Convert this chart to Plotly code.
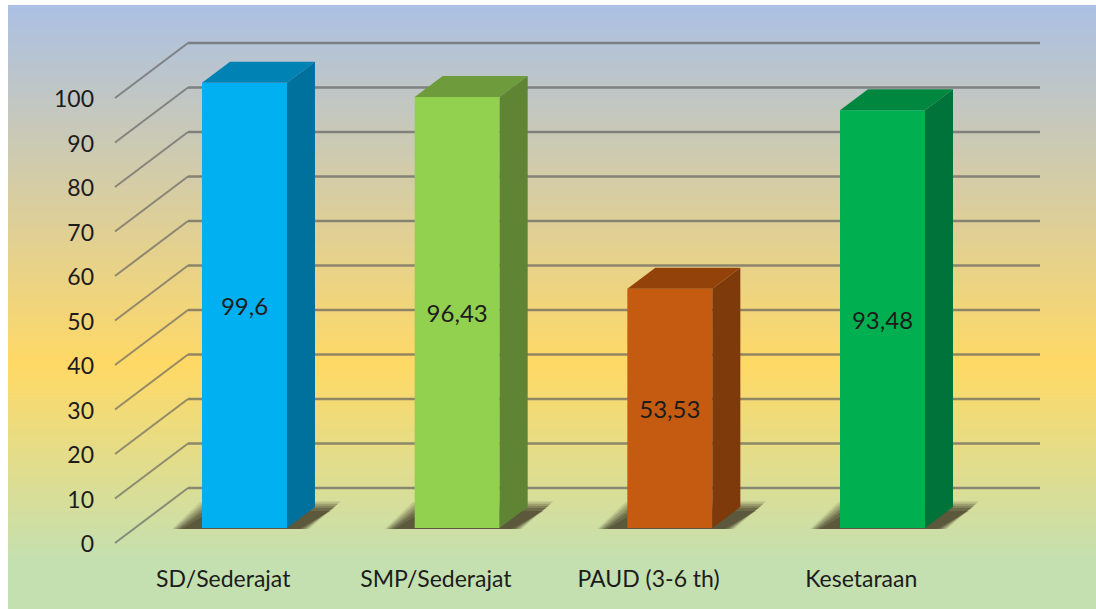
import plotly.graph_objects as go

categories = ["SD/Sederajat", "SMP/Sederajat", "PAUD (3-6 th)", "Kesetaraan"]
values = [99.6, 96.43, 53.53, 93.48]
value_labels = ["99,6", "96,43", "53,53", "93,48"]
tick_values = [0, 10, 20, 30, 40, 50, 60, 70, 80, 90, 100]
front_colors = ["#00B0F0", "#92D050", "#C55A11", "#00B050"]
side_colors = ["#00709C", "#5F8434", "#7F3A0B", "#00733A"]
top_colors = ["#0083B4", "#6E9C3C", "#934309", "#00873F"]

W, H = 1096, 609
FONT = "Lato, Carlito, Calibri, sans-serif"
TEXT = "#1c1c1c"

# pixel calibration of the value and category scales
PX_PER_CAT = 212.67
PX_CAT0 = 244.5
PX_PER_VAL = 4.45
BAR_PX_PER_VAL = 4.47
WALL_ZERO = 544.0   # where value 0 of the tick axis lies
BAR_ZERO = 528.0    # where value 0 of the bars lies


def cx(px):
    return (px - PX_CAT0) / PX_PER_CAT


def wall_v(px):
    return (WALL_ZERO - px) / PX_PER_VAL


BAR_W = 85 / PX_PER_CAT
DEPTH_X = 28 / PX_PER_CAT
DEPTH_Y = 21 / BAR_PX_PER_VAL
GRID_FRONT_X, GRID_BACK_X, GRID_END_X = cx(115), cx(188), cx(1040)
GRID_FRONT_DY = wall_v(543)
GRID_BACK_DY = wall_v(488)
BAR_TO_WALL = (WALL_ZERO - BAR_ZERO) / PX_PER_VAL

fig = go.Figure()

# panel background gradient
n_rows = H - 5
stops = [(0.0, "rgb(171,192,228)"), (360 / 604, "rgb(255,217,102)"),
         (555 / 604, "rgb(197,224,176)"), (1.0, "rgb(197,224,176)")]
fig.add_trace(go.Heatmap(
    x=[cx(8), cx(W)],
    y=[wall_v(5 + i) for i in range(n_rows + 1)],
    z=[[i / (n_rows - 1)] for i in range(n_rows)],
    colorscale=stops, zmin=0, zmax=1, showscale=False, hoverinfo="skip",
))

# back wall gridlines
gx, gy = [], []
for v in tick_values:
    gx += [GRID_BACK_X, GRID_END_X, None]
    gy += [v + GRID_BACK_DY, v + GRID_BACK_DY, None]
fig.add_trace(go.Scatter(x=gx, y=gy, mode="lines", hoverinfo="skip", showlegend=False,
                         line=dict(color="rgba(95,95,95,0.68)", width=2.6)))

# side wall gridlines
gx, gy = [], []
for v in tick_values:
    gx += [GRID_FRONT_X, GRID_BACK_X, None]
    gy += [v + GRID_FRONT_DY, v + GRID_BACK_DY, None]
fig.add_trace(go.Scatter(x=gx, y=gy, mode="lines", hoverinfo="skip", showlegend=False,
                         line=dict(color="rgba(95,95,95,0.65)", width=2)))

# soft floor shadows, drawn as stacked translucent shapes
for i in range(len(categories)):
    left = i - BAR_W / 2
    for grow, alpha in [(3, 0.1), (1.5, 0.14), (0, 0.18), (-2, 0.24), (-4, 0.28), (-7, 0.3)]:
        sx = [left + (-27 - grow) / PX_PER_CAT, left + (1 - grow) / PX_PER_CAT,
              left + (136 + grow) / PX_PER_CAT, left + (104 + grow) / PX_PER_CAT]
        sy = [BAR_TO_WALL - 1 / PX_PER_VAL, BAR_TO_WALL + (23 + grow) / PX_PER_VAL,
              BAR_TO_WALL + (24 + grow) / PX_PER_VAL, BAR_TO_WALL - 1 / PX_PER_VAL]
        fig.add_trace(go.Scatter(x=sx, y=sy, mode="lines", fill="toself",
                                 fillcolor=f"rgba(55,45,28,{alpha})", line=dict(width=0),
                                 hoverinfo="skip", showlegend=False))

# front faces
fig.add_trace(go.Bar(
    x=list(range(len(categories))), y=values, width=BAR_W, yaxis="y2",
    marker=dict(color=front_colors, line=dict(width=0)),
    text=value_labels, textposition="inside", insidetextanchor="middle", textangle=0,
    insidetextfont=dict(family=FONT, size=24, color=TEXT),
    hoverinfo="skip", showlegend=False,
))

# 3D top and side faces
for i, v in enumerate(values):
    l, r = i - BAR_W / 2, i + BAR_W / 2
    fig.add_trace(go.Scatter(
        x=[l, l + DEPTH_X, r + DEPTH_X, r], y=[v, v + DEPTH_Y, v + DEPTH_Y, v],
        yaxis="y2", mode="lines", fill="toself", fillcolor=top_colors[i],
        line=dict(width=0), hoverinfo="skip", showlegend=False))
    fig.add_trace(go.Scatter(
        x=[r, r + DEPTH_X, r + DEPTH_X, r], y=[v, v + DEPTH_Y, DEPTH_Y, 0],
        yaxis="y2", mode="lines", fill="toself", fillcolor=side_colors[i],
        line=dict(width=0), hoverinfo="skip", showlegend=False))

fig.update_layout(
    width=W, height=H, margin=dict(l=0, r=0, t=0, b=0, pad=0),
    paper_bgcolor="white", plot_bgcolor="white", showlegend=False, barmode="overlay",
    xaxis=dict(range=[cx(0), cx(W)], domain=[0, 1], anchor="free", position=(H - 563) / H,
               tickmode="array", tickvals=[i - 0.1 for i in range(len(categories))],
               ticktext=categories, showgrid=False, zeroline=False, showline=False, ticks="",
               tickfont=dict(family=FONT, size=23, color=TEXT)),
    yaxis=dict(range=[wall_v(H), wall_v(0)], domain=[0, 1], anchor="free", position=94 / W,
               tickmode="array", tickvals=tick_values, showgrid=False, zeroline=False,
               showline=False, ticks="", tickfont=dict(family=FONT, size=23, color=TEXT)),
    yaxis2=dict(range=[(BAR_ZERO - H) / BAR_PX_PER_VAL, BAR_ZERO / BAR_PX_PER_VAL], domain=[0, 1],
                overlaying="y", anchor="x", visible=False),
)

fig.write_html("out.html", config={"displayModeBar": False},
               post_script="document.body.style.margin='0';document.body.style.overflow='hidden';")
